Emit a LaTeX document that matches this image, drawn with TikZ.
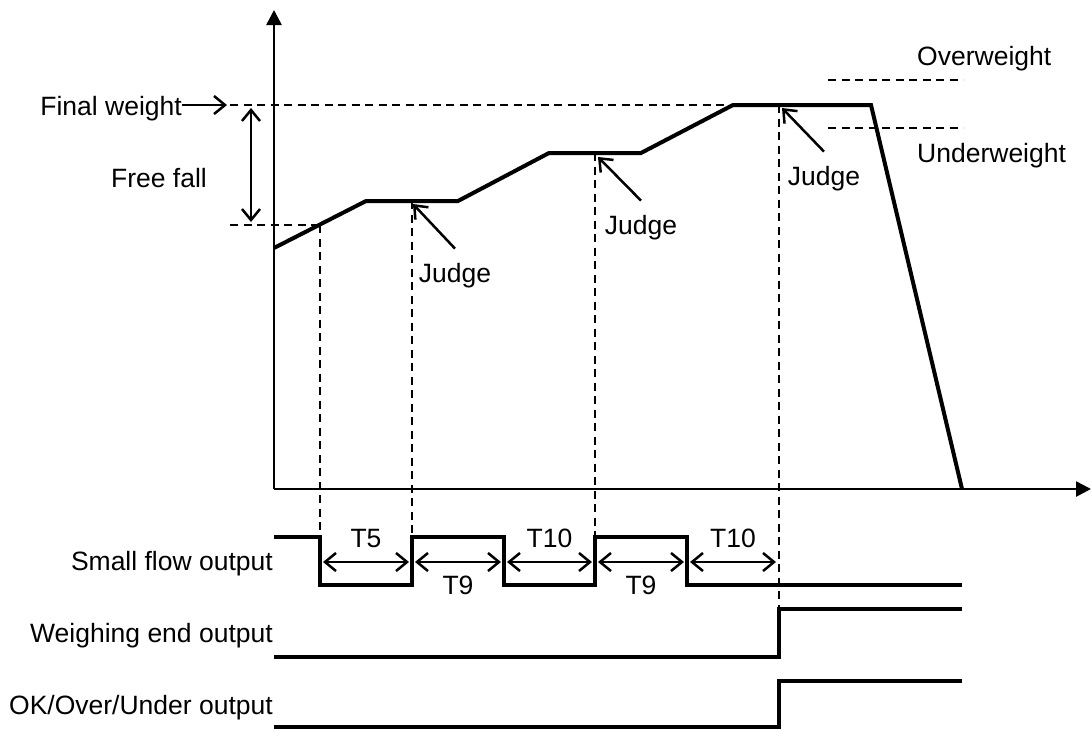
\documentclass[tikz,border=0pt]{standalone}
\usepackage{fontspec}
\setmainfont{Liberation Sans}
\usetikzlibrary{arrows.meta}

\begin{document}
\begin{tikzpicture}  [x=1pt, y=-1pt,
    label/.style={inner sep=0pt, font=\fontsize{26.5}{30}\selectfont},
    axis/.style={line width=2.6pt, -{Triangle[length=15pt, width=15pt]}},
    weight/.style={line width=4pt, line join=miter},
    signal/.style={line width=3.6pt, line join=miter},
    guide/.style={line width=1.8pt, dash pattern=on 8pt off 5.5pt},
    pointer/.style={line width=2.5pt, -{Straight Barb[length=11pt, width=18pt]}},
    span/.style={line width=2.5pt, {Straight Barb[length=11pt, width=18pt]}-{Straight Barb[length=11pt, width=18pt]}},
  ]

\useasboundingbox (0,0) rectangle (1092,729);

%axes
\coordinate (origin) at (274,489);
\coordinate (ytip) at (274,10);
\coordinate (xtip) at (1091,489);
\draw[axis] (origin) -- (ytip);
\draw[axis] (origin) -- (xtip);

%weight curve
\draw[weight] (274,248) -- (366,201) -- (458,201) -- (549,153) -- (641,153) -- (733,105) -- (871,105) -- (962,489);

%guide lines
\draw[guide] (230,105) -- (733,105);
\draw[guide] (230,225) -- (320,225);
\draw[guide] (828,80) -- (963,80);
\draw[guide] (828,128) -- (963,128);
\draw[guide] (320,225) -- (320,537);
\draw[guide] (412,201) -- (412,537);
\draw[guide] (595,153) -- (595,537);
\draw[guide] (779,105) -- (779,609);

%final weight and free fall
\node[label, anchor=base east] (final) at (182,115) {Final weight};
\coordinate (finaltip) at (227,105);
\draw[pointer] (final.east |- finaltip) -- (finaltip);

\node[label, anchor=base] (freefall) at (159,187) {Free fall};
\coordinate (falltop) at (251,108);
\coordinate (fallbottom) at (251,222);
\draw[span] (falltop) -- (fallbottom);

\node[label, anchor=base west] (over) at (917,65) {Overweight};
\node[label, anchor=base west] (under) at (917,162) {Underweight};

%judge points
\foreach \n/\tx/\ty/\hx/\hy in {1/455/282/413/204, 2/641/234/598/157, 3/824/185/782/108}
{
	\node[label, anchor=base] (judge\n) at (\tx,\ty) {Judge};
	\coordinate (hit\n) at (\hx,\hy);
	\draw[pointer] ([yshift=14pt]judge\n.north) -- (hit\n);
}

%outputs
\node[label, anchor=base east] (smallflow) at (273,570) {Small flow output};
\node[label, anchor=base east] (weighend) at (273,642) {Weighing end output};
\node[label, anchor=base east] (okout) at (273,714) {OK/Over/Under output};

\draw[signal] (274,537) -- (320,537) -- (320,585) -- (412,585) -- (412,537) -- (504,537) -- (504,585) -- (595,585) -- (595,537) -- (687,537) -- (687,585) -- (962,585);
\draw[signal] (274,657) -- (779,657) -- (779,609) -- (962,609);
\draw[signal] (274,727) -- (779,727) -- (779,681) -- (962,681);

%timers
\foreach \a/\b/\t/\ly in {320/412/T5/547, 412/504/T9/594, 504/595/T10/547, 595/687/T9/594, 687/779/T10/547}
{
	\coordinate (left\a) at (\a+3,562);
	\coordinate (right\a) at (\b-3,562);
	\draw[span] (left\a) -- (right\a);
	\node[label, anchor=base] (timer\a) at ({(\a+\b)/2},\ly) {\t};
}

\end{tikzpicture}
\end{document}
